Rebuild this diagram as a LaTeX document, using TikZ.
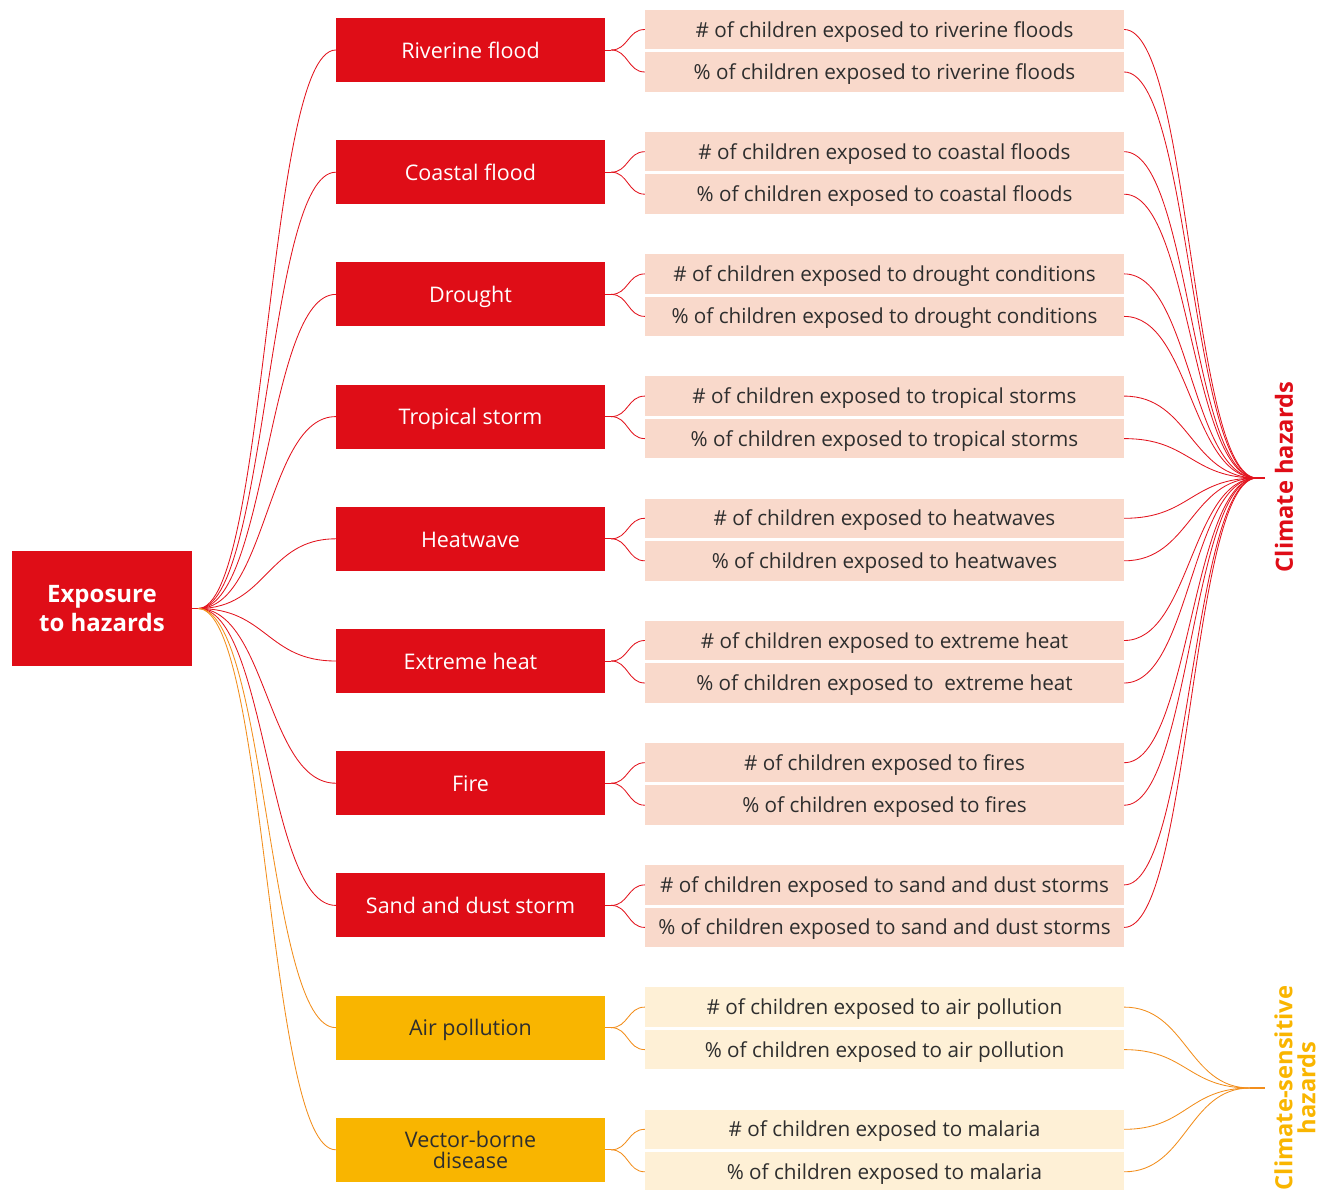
\documentclass[tikz,border=0pt]{standalone}
\usepackage{fontspec}
\setmainfont{Open Sans}
\definecolor{boxred}{HTML}{DF0D17}
\definecolor{linered}{HTML}{E2141E}
\definecolor{pinkbg}{HTML}{F9D9CB}
\definecolor{amber}{HTML}{F9B500}
\definecolor{lightamb}{HTML}{FEF0D6}
\definecolor{lineorange}{HTML}{F28E1C}
\definecolor{darktext}{HTML}{2E2E2E}
\begin{document}
\begin{tikzpicture}[x=1pt,y=-1pt,
  rootbox/.style={fill=boxred,text=white,minimum width=180pt,minimum height=115pt,inner sep=0pt,align=center,font=\bfseries\fontsize{24}{29}\selectfont},
  hazred/.style={fill=boxred,text=white,minimum width=269pt,minimum height=64pt,inner sep=0pt,align=center,font=\fontsize{21.5}{21}\selectfont},
  hazamb/.style={fill=amber,text=darktext,minimum width=269pt,minimum height=64pt,inner sep=0pt,align=center,font=\fontsize{21.5}{21}\selectfont},
  oneline/.style={text height=20pt,text depth=3.6pt},
  indline/.style={text height=19pt,text depth=4pt},
  indred/.style={fill=pinkbg,text=darktext,minimum width=479pt,minimum height=39.5pt,inner sep=0pt,indline,font=\fontsize{20.7}{22}\selectfont},
  indamb/.style={fill=lightamb,text=darktext,minimum width=479pt,minimum height=39.5pt,inner sep=0pt,indline,font=\fontsize{20.7}{22}\selectfont},
  redline/.style={draw=linered,line width=0.85pt},
  orline/.style={draw=lineorange,line width=0.85pt},
  sidelabel/.style={rotate=90,inner sep=0pt,align=center,font=\bfseries\fontsize{23.7}{23}\selectfont}
]
\useasboundingbox (0,0) rectangle (1319,1189);
\node[rootbox] (root) at (102,608.5) {Exposure\\to hazards};
\coordinate (rootout) at (198,608.5);
\draw[redline] (root.east) -- (rootout);
\coordinate (hubR) at (1257,478);
\coordinate (hubRend) at (1265,478);
\draw[redline,line width=1.6pt] (hubR) -- (hubRend);
\coordinate (hubO) at (1250,1088);
\coordinate (hubOend) at (1265,1088);
\draw[orline,line width=1.4pt] (hubO) -- (hubOend);
\node[sidelabel,text=boxred] (clim) at (1284,477) {Climate hazards};
\node[sidelabel,text=amber] (csens) at (1295,1088) {Climate-sensitive\\hazards};

\foreach \n/\lab/\ia/\ib in {
 1/Riverine flood/{\# of children exposed to riverine floods}/{\% of children exposed to riverine floods},
 2/Coastal flood/{\# of children exposed to coastal floods}/{\% of children exposed to coastal floods},
 3/Drought/{\# of children exposed to drought conditions}/{\% of children exposed to drought conditions},
 4/Tropical storm/{\# of children exposed to tropical storms}/{\% of children exposed to tropical storms},
 5/Heatwave/{\# of children exposed to heatwaves}/{\% of children exposed to heatwaves},
 6/Extreme heat/{\# of children exposed to extreme heat}/{\% of children exposed to\ \ extreme heat},
 7/Fire/{\# of children exposed to fires}/{\% of children exposed to fires},
 8/Sand and dust storm/{\# of children exposed to sand and dust storms}/{\% of children exposed to sand and dust storms}}{
  \pgfmathsetmacro\cy{50+122.2*(\n-1)}
  \node[hazred,oneline] (h\n) at (470.5,\cy) {\lab};
  \node[indred] (a\n) at (884.5,\cy-20.5) {\ia};
  \node[indred] (b\n) at (884.5,\cy+22) {\ib};
  \draw[redline] (rootout) .. controls +(69,0) and +(-69,0) .. (h\n.west);
  \draw[redline] (h\n.east) -- ++(6,0) coordinate (s\n);
  \draw[redline] (s\n) .. controls +(17,0) and +(-17,0) .. (a\n.west);
  \draw[redline] (s\n) .. controls +(17,0) and +(-17,0) .. (b\n.west);
  \draw[redline] (a\n.east) .. controls +(66,0) and +(-66,0) .. (hubR);
  \draw[redline] (b\n.east) .. controls +(66,0) and +(-66,0) .. (hubR);
}
\foreach \n/\opt/\lab/\ia/\ib in {
 9/oneline/Air pollution/{\# of children exposed to air pollution}/{\% of children exposed to air pollution},
 10/{}/{Vector-borne\\disease}/{\# of children exposed to malaria}/{\% of children exposed to malaria}}{
  \pgfmathsetmacro\cy{50+122.2*(\n-1)}
  \node[hazamb,\opt] (h\n) at (470.5,\cy) {\lab};
  \node[indamb] (a\n) at (884.5,\cy-20.5) {\ia};
  \node[indamb] (b\n) at (884.5,\cy+22) {\ib};
  \draw[orline] (rootout) .. controls +(69,0) and +(-69,0) .. (h\n.west);
  \draw[orline] (h\n.east) -- ++(6,0) coordinate (s\n);
  \draw[orline] (s\n) .. controls +(17,0) and +(-17,0) .. (a\n.west);
  \draw[orline] (s\n) .. controls +(17,0) and +(-17,0) .. (b\n.west);
  \draw[orline] (a\n.east) .. controls +(62,0) and +(-62,0) .. (hubO);
  \draw[orline] (b\n.east) .. controls +(62,0) and +(-62,0) .. (hubO);
}
\end{tikzpicture}
\end{document}
